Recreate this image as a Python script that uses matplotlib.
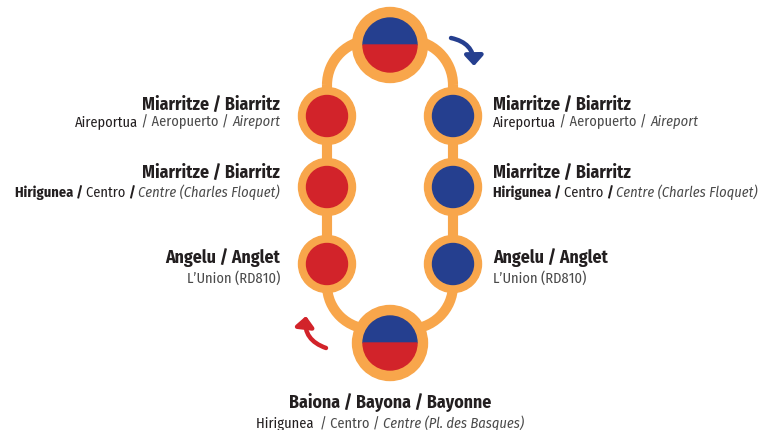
import matplotlib
matplotlib.use("Agg")
import matplotlib.pyplot as plt
from matplotlib.patches import Circle, Wedge, Arc, FancyArrowPatch

plt.rcParams["font.family"] = ["Fira Sans Condensed", "Asap Condensed", "Barlow Condensed", "DejaVu Sans"]

# stops, same on both sides of the loop (top -> bottom)
stations = ["Miarritze / Biarritz", "Miarritze / Biarritz", "Angelu / Anglet"]
station_sub = [
    [("Aireportua", "r"), (" / Aeropuerto / ", "l"), ("Aireport", "i")],
    [("Hirigunea / ", "b"), ("Centro ", "r"), ("/ ", "b"), ("Centre (Charles Floquet)", "i")],
    [("L\u2019Union (RD810)", "l")],
]
terminus = "Baiona / Bayona / Bayonne"
terminus_sub = [("Hirigunea  ", "r"), ("/ Centro / ", "l"), ("Centre (Pl. des Basques)", "i")]

# colours
ORANGE = "#F8A64B"
RED = "#D2232A"
BLUE = "#253F8F"
DARK = "#231F20"
GREY = "#4A4A4A"

# layout (pixels)
W, H = 771, 430
cx = 390
x_left, x_right = 327, 453
stop_y = [116, 187, 264]
title_base = [110, 178, 263]
sub_base = [126, 197, 283]
top_y, bot_y = 45, 343
x_lab_left, x_lab_right = 280, 493

fig = plt.figure(figsize=(W / 100, H / 100), dpi=100)
ax = fig.add_axes([0, 0, 1, 1])
ax.set_xlim(0, W)
ax.set_ylim(H, 0)
ax.set_aspect("equal")
ax.axis("off")
renderer = fig.canvas.get_renderer()

# loop track: straight sides, bends into the terminals
lw = 7.3
y_bend_top, y_bend_bot = 85, 285
r_top, r_bot = 45, 44
for x in [x_left, x_right]:
    ax.plot([x, x], [y_bend_top, y_bend_bot], color=ORANGE, lw=lw, solid_capstyle="butt", zorder=1)
ax.add_patch(Arc((x_left + r_top, y_bend_top), 2 * r_top, 2 * r_top, theta1=180, theta2=272, color=ORANGE, lw=lw, zorder=1))
ax.add_patch(Arc((x_right - r_top, y_bend_top), 2 * r_top, 2 * r_top, theta1=268, theta2=360, color=ORANGE, lw=lw, zorder=1))
ax.add_patch(Arc((x_left + r_bot, y_bend_bot), 2 * r_bot, 2 * r_bot, theta1=88, theta2=180, color=ORANGE, lw=lw, zorder=1))
ax.add_patch(Arc((x_right - r_bot, y_bend_bot), 2 * r_bot, 2 * r_bot, theta1=0, theta2=92, color=ORANGE, lw=lw, zorder=1))

# stops
for y in stop_y:
    for x, c in [(x_left, RED), (x_right, BLUE)]:
        ax.add_patch(Circle((x, y), 28.5, color=ORANGE, zorder=2))
        ax.add_patch(Circle((x, y), 20.5, color=c, zorder=3))

# terminals
for y in [top_y, bot_y]:
    ax.add_patch(Circle((cx, y), 37.5, color=ORANGE, zorder=2))
    ax.add_patch(Wedge((cx, y), 27, 180, 360, color=BLUE, zorder=3))
    ax.add_patch(Wedge((cx, y), 27, 0, 180, color=RED, zorder=3))

# direction arrows
for a, b, c in [((451, 38), (474, 66), BLUE), ((326, 348), (306, 316), RED)]:
    ax.add_patch(FancyArrowPatch(a, b, connectionstyle="arc3,rad=-0.4",
                                 arrowstyle="-|>,head_length=0.55,head_width=0.5",
                                 mutation_scale=11, lw=3.2, color=c,
                                 shrinkA=0, shrinkB=0, zorder=4))

STY = {
    "b": dict(fontweight="bold", fontstyle="normal", color=DARK),
    "r": dict(fontweight="normal", fontstyle="normal", color=DARK),
    "l": dict(fontweight="normal", fontstyle="normal", color=GREY),
    "i": dict(fontweight="normal", fontstyle="italic", color=GREY),
}


def width(s, **kw):
    t = ax.text(0, 0, "|" + s + "|", **kw)
    w1 = t.get_window_extent(renderer).width
    t.remove()
    t = ax.text(0, 0, "||", **kw)
    w2 = t.get_window_extent(renderer).width
    t.remove()
    return w1 - w2


# fit font sizes to the reference widths of the first label
TITLE_SIZE = 12 * 137 / width(stations[0], fontsize=12, fontweight="bold")
SUB_SIZE = 10 * 205 / sum(width(s, fontsize=10, **STY[k]) for s, k in station_sub[0])


def rich_line(x, y, parts, ha):
    ws = [width(s, fontsize=SUB_SIZE, **STY[k]) for s, k in parts]
    total = sum(ws)
    if ha == "right":
        x0 = x - total
    elif ha == "center":
        x0 = x - total / 2
    else:
        x0 = x
    for (s, k), w in zip(parts, ws):
        ax.text(x0, y, s, fontsize=SUB_SIZE, ha="left", va="baseline", **STY[k])
        x0 += w


for i, name in enumerate(stations):
    ax.text(x_lab_left, title_base[i], name, fontsize=TITLE_SIZE, fontweight="bold",
            color=DARK, ha="right", va="baseline")
    ax.text(x_lab_right, title_base[i], name, fontsize=TITLE_SIZE, fontweight="bold",
            color=DARK, ha="left", va="baseline")
    rich_line(x_lab_left, sub_base[i], station_sub[i], "right")
    rich_line(x_lab_right, sub_base[i], station_sub[i], "left")

ax.text(cx, 408, terminus, fontsize=TITLE_SIZE, fontweight="bold", color=DARK,
        ha="center", va="baseline")
rich_line(cx, 428, terminus_sub, "center")

fig.savefig("out.png", dpi=100)
